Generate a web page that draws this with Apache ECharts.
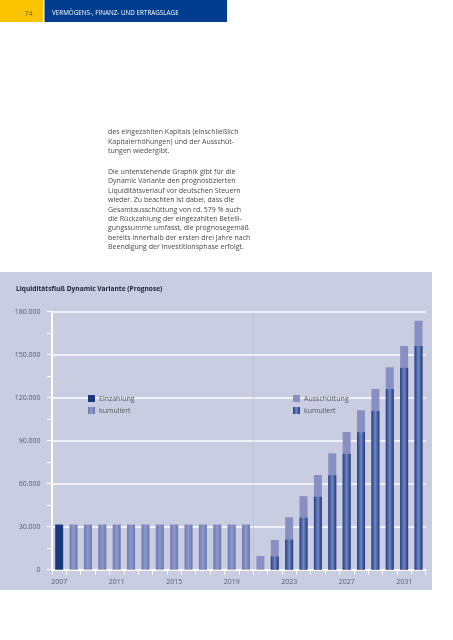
<!DOCTYPE html>
<html>
<head>
<meta charset="utf-8">
<script src="https://cdn.jsdelivr.net/npm/echarts@6/dist/echarts.min.js"></script>
<style>
html,body{margin:0;padding:0;background:#fff;}
#c{width:453px;height:640px;}
</style>
</head>
<body>
<div id="c"></div>
<script>
// ---- data ----
const years = ['2007','2008','2009','2010','2011','2012','2013','2014','2015','2016','2017','2018','2019','2020',
               '2021','2022','2023','2024','2025','2026','2027','2028','2029','2030','2031','2032'];
const einzahlung      = [31500, null,null,null,null,null,null,null,null,null,null,null,null,null,
                         null,null,null,null,null,null,null,null,null,null,null,null];
const kumuliertEin    = [null, 31500,31500,31500,31500,31500,31500,31500,31500,31500,31500,31500,31500,31500,
                         null,null,null,null,null,null,null,null,null,null,null,null];
const ausschuettung   = [null,null,null,null,null,null,null,null,null,null,null,null,null,null,
                         9500,20700,36600,51300,66000,81300,96100,111300,126100,141300,156100,173700];
const kumuliertAus    = [null,null,null,null,null,null,null,null,null,null,null,null,null,null,
                         null,9200,21000,36300,50900,65900,80900,95900,110800,126000,140900,156000];
const yTicks = [0, 30000, 60000, 90000, 120000, 150000, 180000];

const chart = echarts.init(document.getElementById('c'), null, {renderer:'canvas'});
const font = '"Open Sans", "Liberation Sans", sans-serif';

function fmt(v){ return v === 0 ? '0' : (v/1000).toFixed(0) + '.000'; }

const barW = 8;
const gradLav = {type:'linear', x:0, y:0, x2:1, y2:0, colorStops:[
  {offset:0, color:'#6d79b0'},{offset:0.5, color:'#8f9acb'},{offset:1, color:'#6a76ad'}]};
const gradDark = {type:'linear', x:0, y:0, x2:1, y2:0, colorStops:[
  {offset:0, color:'#253d82'},{offset:0.5, color:'#7187c4'},{offset:1, color:'#20387a'}]};

const bodyText1 = 'des eingezahlten Kapitals (einschließlich\nKapitalerhöhungen) und der Ausschüt-\ntungen wiedergibt.';
const bodyText2 = 'Die untenstehende Graphik gibt für die\nDynamic Variante den prognostizierten\nLiquiditätsverlauf vor deutschen Steuern\nwieder. Zu beachten ist dabei, dass die\nGesamtausschüttung von rd. 579 % auch\ndie Rückzahlung der eingezahlten Beteili-\ngungssumme umfasst, die prognosegemäß\nbereits innerhalb der ersten drei Jahre nach\nBeendigung der Investitionsphase erfolgt.';

chart.setOption({
  animation:false,
  backgroundColor:'#ffffff',
  graphic:[
    {type:'rect', z:-10, shape:{x:0,y:272,width:432,height:318}, style:{fill:'#c9cde1'}},
    {type:'rect', shape:{x:0,y:0,width:43,height:22}, style:{fill:'#fcc400'}},
    {type:'rect', shape:{x:44.5,y:0,width:182.5,height:22}, style:{fill:'#003d8e'}},
    {type:'text', x:28.5, y:13.5, style:{text:'74', fill:'#5a5a5a', font:'7px '+font, align:'center', verticalAlign:'middle'}},
    {type:'text', x:52, y:13.5, style:{text:'VERMÖGENS-, FINANZ- UND ERTRAGSLAGE', fill:'#ffffff', font:'6.3px '+font, verticalAlign:'middle'}},
    {type:'text', x:108, y:127, style:{text:bodyText1, fill:'#4a4a4a', font:'7px '+font, lineHeight:9.7}},
    {type:'text', x:108, y:167, style:{text:bodyText2, fill:'#4a4a4a', font:'7px '+font, lineHeight:9.45}},
    {type:'text', x:16, y:289, style:{text:'Liquiditätsfluß Dynamic Variante (Prognose)', fill:'#1f2030', font:'bold 6.6px '+font, verticalAlign:'middle'}}
  ],
  legend:[
    {left:83, top:390, orient:'vertical', icon:'rect', itemWidth:7, itemHeight:7, itemGap:5, selectedMode:false,
     data:['Einzahlung','kumuliert'], textStyle:{fontSize:7, color:'#555', fontFamily:font, padding:[0,0,0,-1]}},
    {left:288, top:390, orient:'vertical', icon:'rect', itemWidth:7, itemHeight:7, itemGap:5, selectedMode:false,
     data:['Ausschüttung','kumuliert '], textStyle:{fontSize:7, color:'#555', fontFamily:font, padding:[0,0,0,-1]}}
  ],
  grid:{left:52, right:27.3, top:311.7, bottom:70.3, containLabel:false},
  xAxis:[{
    type:'category', data:years, boundaryGap:true,
    axisLine:{lineStyle:{color:'#ffffff', width:2}},
    axisTick:{show:true, interval:0, length:5, lineStyle:{color:'#ffffff', width:1}},
    axisLabel:{interval:3, fontSize:7, color:'#555a6e', fontFamily:font, margin:9},
    splitLine:{show:false}
  },{
    type:'value', min:0, max:26, show:false
  }],
  yAxis:{
    type:'value', min:0, max:180000, interval:30000, offset:2.5,
    axisLine:{show:true, lineStyle:{color:'#ffffff', width:2}},
    axisTick:{show:true, length:5, lineStyle:{color:'#ffffff', width:1}},
    minorTick:{show:true, splitNumber:2, length:5, lineStyle:{color:'#ffffff', width:1}},
    axisLabel:{formatter:fmt, fontSize:7, color:'#555a6e', fontFamily:font, margin:9},
    splitLine:{lineStyle:{color:'#f0f1f7', width:2}}
  },
  series:[
    {name:'Einzahlung', type:'bar', data:einzahlung, barWidth:barW, barGap:'-100%',
     itemStyle:{color:'#1b387f'}},
    {name:'kumuliert', type:'bar', data:kumuliertEin, barWidth:barW, barGap:'-100%',
     itemStyle:{color:gradLav}},
    {name:'Ausschüttung', type:'bar', data:ausschuettung, barWidth:barW, barGap:'-100%',
     itemStyle:{color:'#8890c3'}},
    {name:'kumuliert ', type:'bar', data:kumuliertAus, barWidth:barW, barGap:'-100%',
     itemStyle:{color:gradDark}},
    {name:'trenner', type:'line', xAxisIndex:1, data:[], silent:true,
     markLine:{silent:true, symbol:'none', label:{show:false},
       lineStyle:{color:'#a3a9d0', type:[1,2], width:1},
       data:[{xAxis:14}]}}
  ]
});
</script>
</body>
</html>
